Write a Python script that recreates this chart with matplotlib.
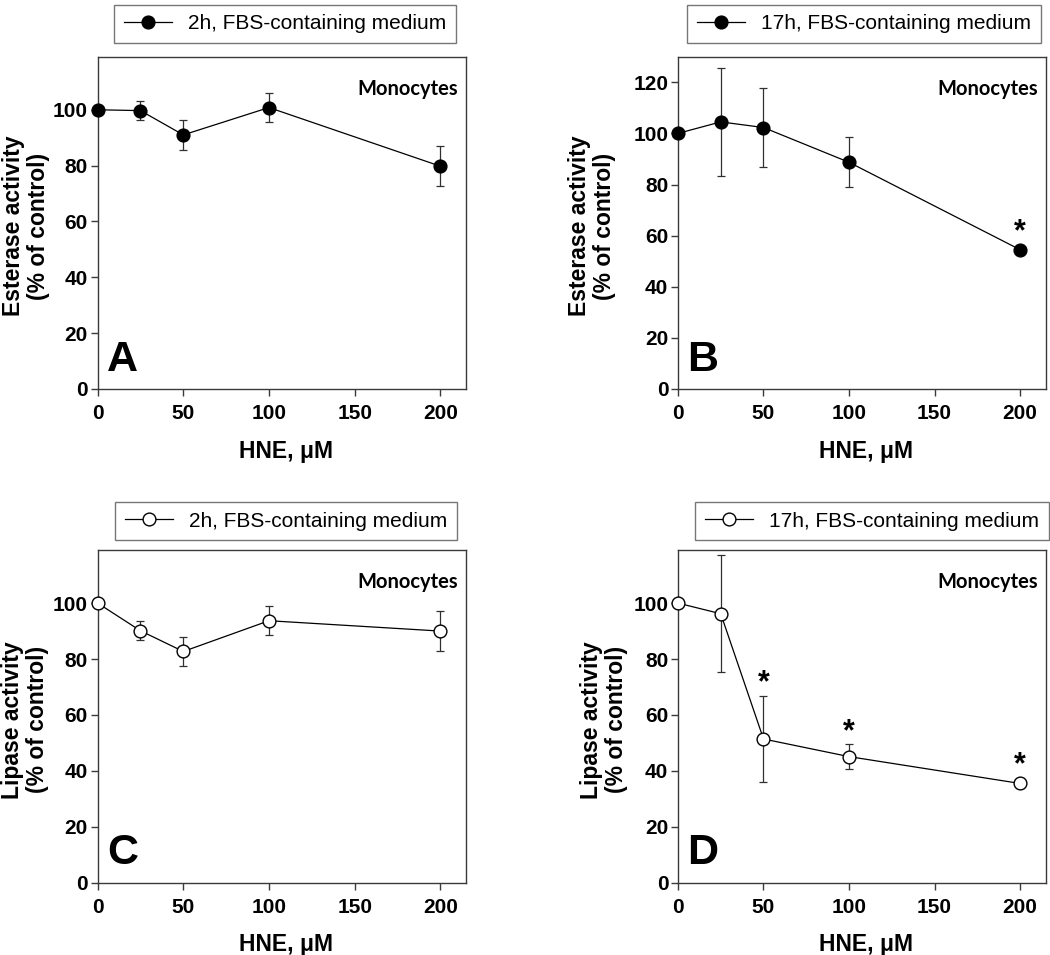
"""
HNE effect on esterase / lipase activity in monocytes (panels A-D).
"""

import matplotlib
matplotlib.use("Agg")
import matplotlib.pyplot as plt

# ============================================================
# Data
# ============================================================
HNE = [0, 25, 50, 100, 200]

est_2h = [100.0, 99.7, 91.0, 100.8, 79.8]
est_2h_err = [0.0, 3.5, 5.4, 5.2, 7.2]
est_2h_sig = [False, False, False, False, False]

est_17h = [100.0, 104.5, 102.3, 88.7, 54.5]
est_17h_err = [0.0, 21.0, 15.5, 9.8, 1.0]
est_17h_sig = [False, False, False, False, True]

lip_2h = [100.0, 90.1, 82.7, 93.7, 90.0]
lip_2h_err = [0.0, 3.4, 5.3, 5.1, 7.2]
lip_2h_sig = [False, False, False, False, False]

lip_17h = [100.0, 96.2, 51.4, 45.1, 35.5]
lip_17h_err = [0.0, 20.9, 15.4, 4.4, 1.0]
lip_17h_sig = [False, False, True, True, True]

X_TICKS = [0, 50, 100, 150, 200]

SPINE = "#3a3a3a"
FONT = "Liberation Sans"

panels = [
    # letter, y, err, sig, legend label, ylabel, filled, ylim, yticks, axes rect,
    # ylabel x, xlabel y, legend anchor
    ("A", est_2h, est_2h_err, est_2h_sig, "2h, FBS-containing medium",
     "Esterase activity\n(% of control)", True, 119, range(0, 101, 20),
     [0.093, 0.5927, 0.3508, 0.3479], -0.130, -0.155, (0.509, 1.042)),
    ("B", est_17h, est_17h_err, est_17h_sig, "17h, FBS-containing medium",
     "Esterase activity\n(% of control)", True, 130, range(0, 121, 20),
     [0.6457, 0.5927, 0.3502, 0.3479], -0.169, -0.155, (0.506, 1.042)),
    ("C", lip_2h, lip_2h_err, lip_2h_sig, "2h, FBS-containing medium",
     "Lipase activity\n(% of control)", False, 119, range(0, 101, 20),
     [0.093, 0.0757, 0.3508, 0.3484], -0.131, -0.150, (0.512, 1.030)),
    ("D", lip_17h, lip_17h_err, lip_17h_sig, "17h, FBS-containing medium",
     "Lipase activity\n(% of control)", False, 119, range(0, 101, 20),
     [0.6457, 0.0757, 0.3502, 0.3484], -0.136, -0.150, (0.528, 1.030)),
]

fig = plt.figure(figsize=(10.5, 9.55), dpi=100)

for letter, y, err, sig, leg, ylab, filled, ytop, yticks, rect, lab_x, lab_y, leg_anchor in panels:
    ax = fig.add_axes(rect)

    # error bars first, then the line with markers on top
    ax.errorbar(HNE, y, yerr=err, fmt="none", ecolor="#303030", elinewidth=0.9,
                capsize=3.2, capthick=0.9, zorder=2)
    ax.plot(HNE, y, "-o", color="black", lw=0.9, ms=9.2,
            mfc="black" if filled else "white", mec="black", mew=1.0,
            label=leg, zorder=3, clip_on=False)

    # significance asterisks
    for xi, yi, ei, s in zip(HNE, y, err, sig):
        if s:
            ax.annotate("*", xy=(xi, yi + max(ei, 2.0)), xytext=(0, -2),
                        textcoords="offset points", ha="center", va="bottom",
                        fontsize=22, fontweight="bold", family=FONT)

    ax.set_xlim(0, 215)
    ax.set_ylim(0, ytop)
    ax.set_xticks(X_TICKS)
    ax.set_yticks(list(yticks))

    for side in ["left", "bottom", "right", "top"]:
        ax.spines[side].set_color(SPINE)
        ax.spines[side].set_linewidth(1.0)

    ax.tick_params(axis="both", direction="out", length=5, width=1.0, color=SPINE,
                   labelsize=15)
    ax.tick_params(axis="x", pad=6)
    ax.tick_params(axis="y", pad=2)
    for lbl in ax.get_xticklabels() + ax.get_yticklabels():
        lbl.set_fontweight("bold")
        lbl.set_family(FONT)

    ax.set_ylabel(ylab, fontsize=16.5, fontweight="bold", family=FONT, linespacing=1.12)
    ax.yaxis.set_label_coords(lab_x, 0.49)
    ax.set_xlabel("HNE, μM", fontsize=16.5, fontweight="bold", family=FONT)
    ax.xaxis.set_label_coords(0.51, lab_y)

    ax.text(0.978, 0.903, "Monocytes", transform=ax.transAxes, ha="right", va="center",
            fontsize=14.5, fontweight="bold", family="Lato")
    ax.text(0.025, 0.055, letter, transform=ax.transAxes, ha="left", va="baseline",
            fontsize=31, fontweight="bold", family=FONT)

    lg = ax.legend(loc="lower center", bbox_to_anchor=leg_anchor, borderaxespad=0,
                   frameon=True, fancybox=False, edgecolor="#555555",
                   prop={"family": FONT, "size": 15}, handlelength=2.3,
                   handletextpad=0.8, borderpad=0.45)
    lg.get_frame().set_linewidth(1.0)

fig.savefig("out.png", dpi=100)
